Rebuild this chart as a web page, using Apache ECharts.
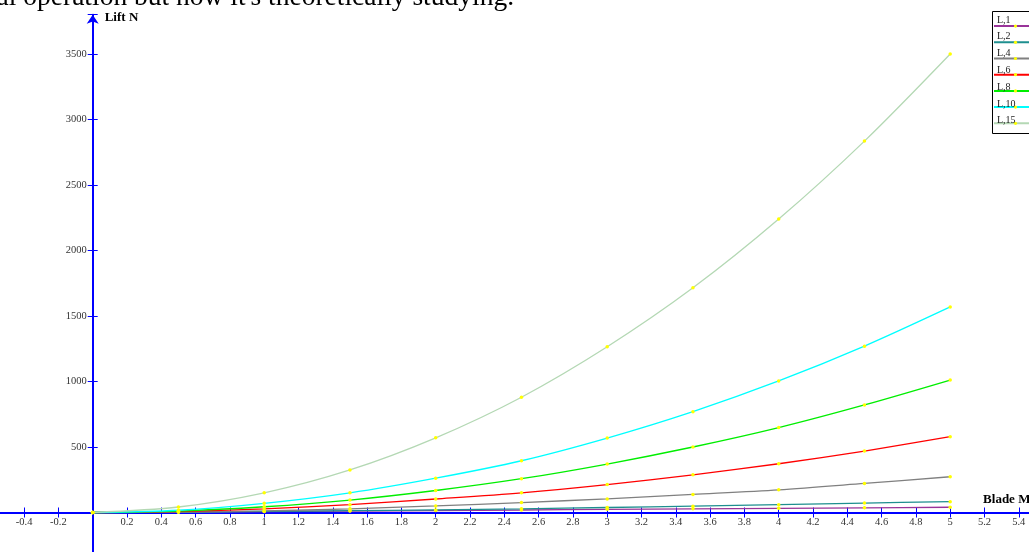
<!DOCTYPE html>
<html>
<head>
<meta charset="utf-8">
<script src="https://cdn.jsdelivr.net/npm/echarts@6/dist/echarts.min.js"></script>
<style>
  html, body { margin: 0; padding: 0; background: #ffffff; }
  #chart { width: 1029px; height: 552px; }
</style>
</head>
<body>
<div id="chart"></div>
<script>
// Blade length samples (M) and lift (N) for each L setting
const bladeM = [0, 0.5, 1, 1.5, 2, 2.5, 3, 3.5, 4, 4.5, 5];
const seriesNames = ['L,1', 'L,2', 'L,4', 'L,6', 'L,8', 'L,10', 'L,15'];
const seriesColors = ['#993399', '#1e8f8f', '#808080', '#ff0000', '#00ee00', '#00ffff', '#b4d8b4'];
const liftL1  = [0, 3, 7, 11, 15, 19, 24, 28, 32, 36, 40];
const liftL2  = [0, 3, 8, 14, 20, 28, 38, 48, 60, 72, 83];
const liftL4  = [0, 3, 12, 28, 50, 76, 104, 138, 173, 222, 273];
const liftL6  = [0, 7, 27, 60, 103, 150, 213, 288, 372, 469, 579];
const liftL8  = [0, 11, 44, 95, 168, 258, 370, 500, 648, 821, 1011];
const liftL10 = [0, 17, 70, 150, 262, 395, 568, 770, 1004, 1270, 1569];
const liftL15 = [0, 42, 150, 325, 570, 880, 1265, 1715, 2240, 2835, 3500];
const liftSets = [liftL1, liftL2, liftL4, liftL6, liftL8, liftL10, liftL15];

const captionText = "normal operation but now it's theoretically studying.";
const xName = 'Blade M';
const yName = 'Lift N';

const serif = '"Liberation Serif", "Times New Roman", serif';
const axisBlue = '#0000ff';

// Plot box: x from -0.6 to 5.6, y from -500 to 3800
const gridLeft = -10.2, gridRight = -24.1, gridTop = 14.7, gridBottom = -26;
const W = 1029, H = 552;
const xMin = -0.6, xMax = 5.6, yMin = -500, yMax = 3800;
const plotW = W - gridLeft - gridRight, plotH = H - gridTop - gridBottom;
// Shift the axes from the box edges to the zero lines
const xAxisOffset = -(plotH * (0 - yMin) / (yMax - yMin));
const yAxisOffset = -(plotW * (0 - xMin) / (xMax - xMin));

const series = seriesNames.map((name, i) => ({
  name: name,
  type: 'line',
  data: bladeM.map((m, k) => [m, liftSets[i][k]]),
  smooth: 0.3,
  symbol: 'circle',
  symbolSize: 3.5,
  showSymbol: true,
  color: seriesColors[i],
  lineStyle: { color: seriesColors[i], width: 1.3 },
  itemStyle: { color: '#ffff00' },
  emphasis: { disabled: true },
  animation: false,
  z: 2
}));

const xLabel = v => {
  const r = Math.round(v * 10) / 10;
  return r === 0 ? '' : String(r);
};
const yLabel = v => (v > 0 && v % 500 === 0) ? String(v) : '';

const xCommon = { type: 'value', min: xMin, max: xMax, interval: 0.2, position: 'bottom', offset: xAxisOffset, splitLine: { show: false } };
const yCommon = { type: 'value', min: yMin, max: yMax, interval: 500, position: 'left', offset: yAxisOffset, splitLine: { show: false } };

const chart = echarts.init(document.getElementById('chart'), null, { renderer: 'canvas' });
chart.setOption({
  backgroundColor: '#ffffff',
  animation: false,
  grid: { left: gridLeft, right: gridRight, top: gridTop, bottom: gridBottom, containLabel: false, outerBoundsMode: 'none' },
  xAxis: [
    Object.assign({}, xCommon, {
      name: xName, nameLocation: 'end', nameGap: -70, nameMoveOverlap: false,
      nameTextStyle: { fontFamily: serif, fontWeight: 'bold', fontSize: 13, color: '#000',
        align: 'left', verticalAlign: 'bottom', lineHeight: 15, padding: [0, 0, 5, 0] },
      axisLine: { onZero: false, lineStyle: { color: axisBlue, width: 2 } },
      axisTick: { show: true, inside: false, length: 5, lineStyle: { color: axisBlue, width: 1 } },
      axisLabel: { formatter: xLabel, margin: 4, fontFamily: serif, fontSize: 10.5, color: '#333' }
    }),
    Object.assign({}, xCommon, {
      axisLine: { show: false, onZero: false },
      axisTick: { show: true, inside: true, length: 5, lineStyle: { color: axisBlue, width: 1 } },
      axisLabel: { show: false }
    })
  ],
  yAxis: [
    Object.assign({}, yCommon, {
      name: yName, nameLocation: 'end', nameGap: -3.3, nameMoveOverlap: false,
      nameTextStyle: { fontFamily: serif, fontWeight: 'bold', fontSize: 13, color: '#000',
        align: 'left', verticalAlign: 'middle', padding: [0, 0, 0, 12] },
      axisLine: { onZero: false, symbol: ['none', 'arrow'], symbolSize: [9, 9],
        lineStyle: { color: axisBlue, width: 2 } },
      axisTick: { show: true, inside: false, length: 5, lineStyle: { color: axisBlue, width: 1 } },
      axisLabel: { formatter: yLabel, margin: 6, fontFamily: serif, fontSize: 10.5, color: '#333' }
    }),
    Object.assign({}, yCommon, {
      axisLine: { show: false, onZero: false },
      axisTick: { show: true, inside: true, length: 5, lineStyle: { color: axisBlue, width: 1 } },
      axisLabel: { show: false }
    })
  ],
  legend: [
    {
      data: seriesNames, orient: 'vertical', left: 993, top: 24.5, padding: 0,
      itemWidth: 43, itemHeight: 4, itemGap: 13, selectedMode: false,
      formatter: () => '', textStyle: { fontSize: 1, lineHeight: 1 }, z: 6
    },
    {
      data: seriesNames, orient: 'vertical', left: 992, top: 15, padding: 0,
      icon: 'rect', itemWidth: 0, itemHeight: 10, itemGap: 6.8, selectedMode: false,
      textStyle: { fontFamily: serif, fontSize: 10, lineHeight: 10, color: '#222' }, z: 6
    }
  ],
  graphic: [
    {
      type: 'text', x: 514, y: -2.3, z: 10, silent: true,
      style: { text: captionText, font: '27.5px ' + serif, fill: '#000', align: 'right', verticalAlign: 'middle' }
    },
    {
      type: 'rect', z: 3, silent: true,
      shape: { x: 992.5, y: 11.5, width: 60, height: 122 },
      style: { fill: '#ffffff', stroke: '#000000', lineWidth: 1 }
    }
  ],
  series: series
});
</script>
</body>
</html>
